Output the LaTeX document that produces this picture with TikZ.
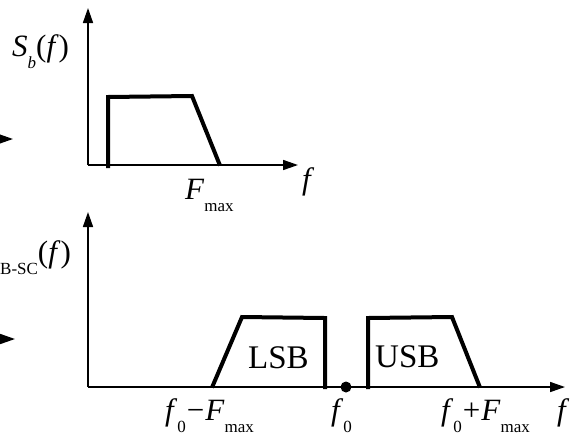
\documentclass[tikz,border=0pt]{standalone}
\usepackage{fontspec}
\setmainfont{Liberation Serif}
\usetikzlibrary{arrows.meta}
\newcommand{\bigsz}{\fontsize{31}{31}\selectfont}
\newcommand{\bandsz}{\fontsize{33}{33}\selectfont}
\newcommand{\subtxt}[1]{\raisebox{-12.5pt}{\fontsize{17}{17}\selectfont #1}}
\begin{document}
\begin{tikzpicture}[x=1pt,y=-1pt,
  axis/.style={line width=1.6pt,-{Triangle[length=15pt,width=10pt]}},
  spec/.style={line width=4pt,line join=miter},
  lbl/.style={inner sep=0pt,anchor=base west,font=\bigsz},
  band/.style={inner sep=0pt,anchor=base west,font=\bandsz},
  feed/.style={line width=1.6pt,-{Triangle[length=15pt,width=10pt]}}]
\useasboundingbox (0,0) rectangle (585,437);
\clip (0,0) rectangle (585,437);
% coordinates
\coordinate (o1) at (88,165);
\coordinate (y1) at (88,8);
\coordinate (x1) at (298,165);
\coordinate (o2) at (88,387);
\coordinate (y2) at (88,212);
\coordinate (x2) at (565,387);
\coordinate (in1s) at (-30,139);
\coordinate (in1e) at (13,139);
\coordinate (in2s) at (-30,339);
\coordinate (in2e) at (15,339);
% axes
\draw[axis] (o1) -- (y1);
\draw[axis] (o1) -- (x1);
\draw[axis] (o2) -- (y2);
\draw[axis] (o2) -- (x2);
% incoming arrows (cropped)
\draw[feed] (in1s) -- (in1e);
\draw[feed] (in2s) -- (in2e);
% top spectrum
\draw[spec] (108,168) -- (108,97) -- (192,96) -- (220,165.5);
% LSB
\draw[spec] (212,387.5) -- (242,317) -- (325,318) -- (325,389);
% USB
\draw[spec] (368,389) -- (368,318) -- (452,317) -- (480,387.5);
% carrier dot
\fill (346,387) circle (5.5pt);
\node[band] (lsb) at (248,368) {LSB};
\node[band] (usb) at (375,367) {USB};
% labels top
\node[lbl] (sb) at (12,56) {\textit{S}\subtxt{\textit{b}}(\textit{f})};
\node[lbl] (fmax) at (185,199) {\textit{F}\subtxt{max}};
\node[lbl] (f1) at (302,189) {\textit{f}};
% labels bottom
\node[lbl] (sdsb) at (0,262) {\subtxt{B-SC}(\textit{f})};
\node[lbl] (lo) at (165,420) {\textit{f}\subtxt{0}\kern1pt{\char"2212}\kern1pt\textit{F}\subtxt{max}};
\node[lbl] (f0) at (331,420) {\textit{f}\subtxt{0}};
\node[lbl] (hi) at (441,420) {\textit{f}\subtxt{0}\kern1pt+\kern1pt\textit{F}\subtxt{max}};
\node[lbl] (f2) at (557,420) {\textit{f}};
\end{tikzpicture}
\end{document}
